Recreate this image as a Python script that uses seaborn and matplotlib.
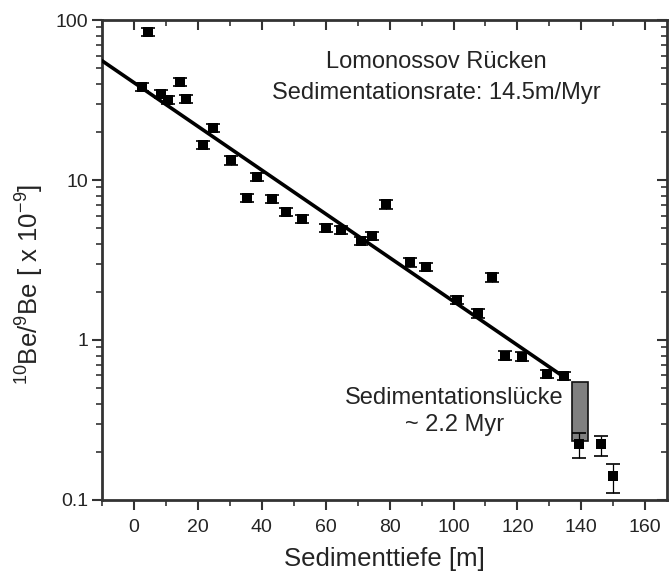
import matplotlib
matplotlib.use("Agg")
import matplotlib.pyplot as plt
import seaborn as sns
import numpy as np
import pandas as pd
from matplotlib.ticker import FixedLocator, LogLocator, NullFormatter, FuncFormatter

# ---- data ----
depth = [2.4, 4.5, 8.6, 10.7, 14.5, 16.2, 21.7, 24.6, 30.5, 35.5, 38.6, 43.3,
         47.7, 52.6, 60.0, 64.9, 71.2, 74.5, 79.0, 86.3, 91.3, 101.1, 107.6,
         112.0, 116.2, 121.3, 129.3, 134.7, 139.2, 146.1, 150.0]
ratio = [38.3, 84.0, 34.5, 31.6, 41.0, 32.2, 16.6, 21.2, 13.3, 7.7, 10.5, 7.6,
         6.3, 5.7, 5.0, 4.87, 4.16, 4.47, 7.05, 3.06, 2.87, 1.78, 1.47,
         2.47, 0.80, 0.787, 0.613, 0.596, 0.224, 0.223, 0.141]
err_low = [2.3, 5.0, 2.1, 1.9, 2.5, 1.9, 1.0, 1.3, 0.8, 0.46, 0.63, 0.46,
           0.38, 0.34, 0.30, 0.29, 0.25, 0.27, 0.42, 0.18, 0.17, 0.11, 0.09,
           0.15, 0.05, 0.05, 0.037, 0.036, 0.040, 0.036, 0.030]
err_high = [2.3, 5.0, 2.1, 1.9, 2.5, 1.9, 1.0, 1.3, 0.8, 0.46, 0.63, 0.46,
            0.38, 0.34, 0.30, 0.29, 0.25, 0.27, 0.42, 0.18, 0.17, 0.11, 0.09,
            0.15, 0.05, 0.05, 0.037, 0.036, 0.040, 0.027, 0.026]

fit_depth = [-10.0, 135.5]
fit_ratio = [55.7, 0.57]

gap_depth = 139.5
gap_width = 5.0
gap_top = 0.55
gap_bottom = 0.235

x_ticks = [0, 20, 40, 60, 80, 100, 120, 140, 160]
x_minor = [-10, 10, 30, 50, 70, 90, 110, 130, 150]
y_ticks = [0.1, 1, 10, 100]
y_tick_labels = ["0.1", "1", "10", "100"]

df = pd.DataFrame({"depth": depth, "ratio": ratio})
fit_df = pd.DataFrame({"depth": fit_depth, "ratio": fit_ratio})

# ---- figure ----
sns.set_theme(style="ticks")
plt.rcParams["font.family"] = ["Liberation Sans", "DejaVu Sans"]
plt.rcParams["mathtext.fontset"] = "custom"
plt.rcParams["mathtext.rm"] = "Liberation Sans"
plt.rcParams["mathtext.it"] = "Liberation Sans"

fig = plt.figure(figsize=(6.69, 5.74), dpi=100)
ax = fig.add_axes([0.1525, 0.129, 0.8445, 0.836])
ax.set_yscale("log")

text_col = "#242424"
axis_col = "#333333"

# gap box
ax.bar([gap_depth], [gap_top - gap_bottom], bottom=[gap_bottom], width=gap_width,
       color="#808080", edgecolor="#111111", linewidth=1.2, zorder=2)

# fit line
sns.lineplot(data=fit_df, x="depth", y="ratio", ax=ax, color="black",
             linewidth=2.6, zorder=3, legend=False)

# error bars
ax.errorbar(depth, ratio, yerr=[err_low, err_high], fmt="none", ecolor="black",
            elinewidth=0.9, capsize=5, capthick=1.2, zorder=4)

# points
sns.scatterplot(data=df, x="depth", y="ratio", ax=ax, marker="s", s=45,
                color="black", edgecolor="black", linewidth=0, zorder=5,
                legend=False)

ax.set_xlim(-10, 166.8)
ax.set_ylim(0.1, 100)

# ticks
ax.xaxis.set_major_locator(FixedLocator(x_ticks))
ax.xaxis.set_minor_locator(FixedLocator(x_minor))
ax.yaxis.set_major_locator(FixedLocator(y_ticks))
ax.yaxis.set_major_formatter(FuncFormatter(
    lambda v, p: y_tick_labels[y_ticks.index(v)] if v in y_ticks else ""))
ax.yaxis.set_minor_locator(LogLocator(base=10, subs=np.arange(2, 10)))
ax.yaxis.set_minor_formatter(NullFormatter())

ax.tick_params(axis="both", which="major", direction="out", length=7, width=1.5,
               labelsize=14, labelcolor=text_col, colors=axis_col, pad=3)
ax.tick_params(axis="both", which="minor", direction="out", length=4, width=1.2,
               colors=axis_col)
ax.tick_params(axis="x", which="major", pad=7)

# mirrored inward ticks on top/right
axt = ax.secondary_xaxis("top")
axt.xaxis.set_major_locator(FixedLocator(x_ticks))
axt.xaxis.set_minor_locator(FixedLocator(x_minor))
axt.tick_params(which="major", direction="in", length=7, width=1.5, labeltop=False, colors=axis_col)
axt.tick_params(which="minor", direction="in", length=4, width=1.2, colors=axis_col)
axr = ax.secondary_yaxis("right")
axr.yaxis.set_major_locator(FixedLocator(y_ticks))
axr.yaxis.set_minor_locator(LogLocator(base=10, subs=np.arange(2, 10)))
axr.yaxis.set_minor_formatter(NullFormatter())
axr.tick_params(which="major", direction="in", length=7, width=1.5, labelright=False, colors=axis_col)
axr.tick_params(which="minor", direction="in", length=4, width=1.2, colors=axis_col)
for s in axt.spines.values():
    s.set_visible(False)
for s in axr.spines.values():
    s.set_visible(False)

for s in ax.spines.values():
    s.set_visible(True)
    s.set_linewidth(2.0)
    s.set_color(axis_col)

ax.set_xlabel("Sedimenttiefe [m]", fontsize=18.5, color=text_col)
ax.xaxis.set_label_coords(0.5, -0.098)
ax.set_ylabel(r"$^{10}$Be/$^{9}$Be [ x 10$^{-9}$]", fontsize=18.5, color=text_col)
ax.yaxis.set_label_coords(-0.1, 0.45)

# annotations
ax.text(94.7, 54.6, "Lomonossov Rücken", fontsize=17, color=text_col,
        ha="center", va="center")
ax.text(94.7, 35.0, "Sedimentationsrate: 14.5m/Myr", fontsize=17, color=text_col,
        ha="center", va="center")
ax.text(100.3, 0.434, "Sedimentationslücke", fontsize=17, color=text_col,
        ha="center", va="center")
ax.text(100.3, 0.295, "~ 2.2 Myr", fontsize=17, color=text_col,
        ha="center", va="center")

fig.savefig("out.png", dpi=100)
